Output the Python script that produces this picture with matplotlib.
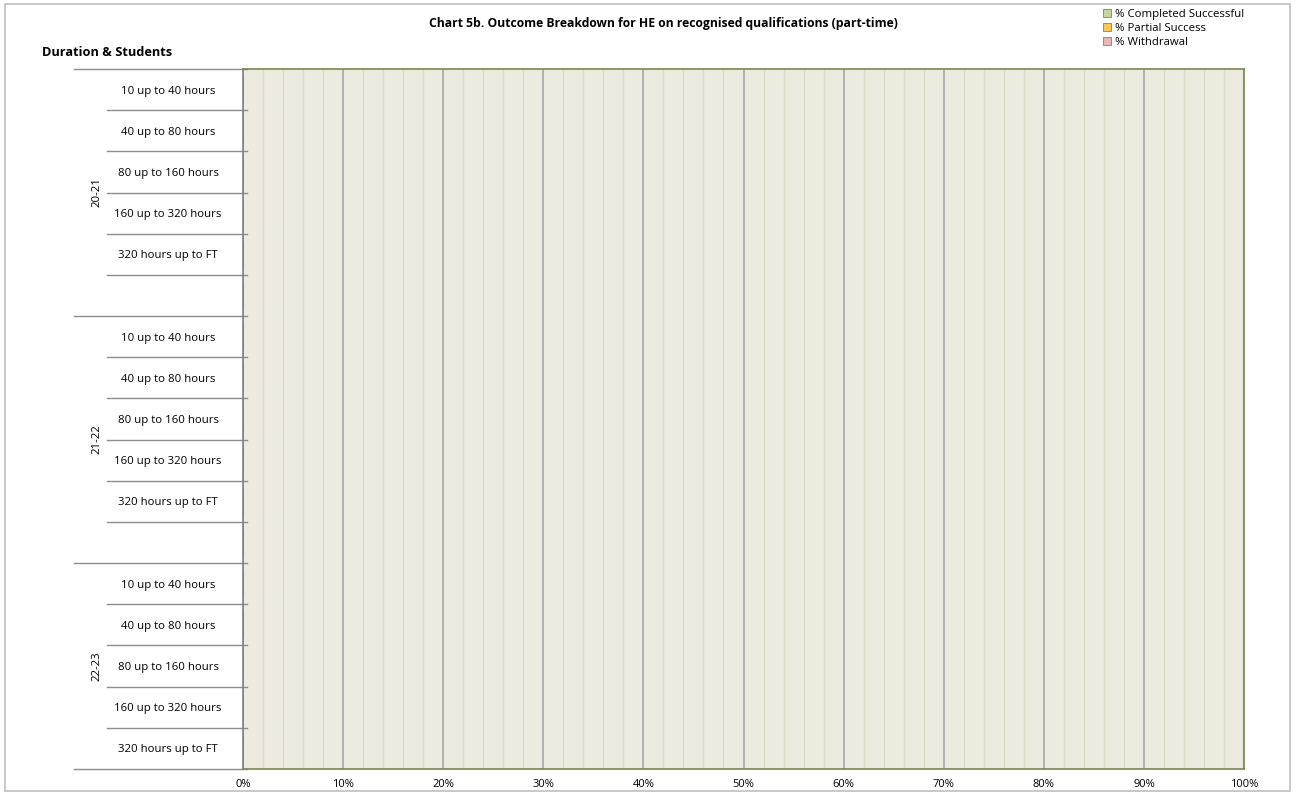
import numpy as np
import matplotlib.pyplot as plt
from matplotlib.patches import Rectangle

plt.rcParams['font.family'] = ['Open Sans', 'DejaVu Sans']

# categories (top to bottom)
durations = ['10 up to 40 hours', '40 up to 80 hours', '80 up to 160 hours',
             '160 up to 320 hours', '320 hours up to FT']
years = ['20-21', '21-22', '22-23']
row_labels = durations + [''] + durations + [''] + durations

# series (no data published -> all zero)
completed = [0] * len(row_labels)
partial = [0] * len(row_labels)
withdrawal = [0] * len(row_labels)

series_names = ['% Completed Successful', '% Partial Success', '% Withdrawal']
series_colors = ['#c4d79b', '#fac858', '#e6b8b7']

W, H = 1303, 792
fig = plt.figure(figsize=(W / 100, H / 100), dpi=100)
ax = fig.add_axes([243 / W, 1 - 769 / H, 1001 / W, 700 / H])

ypos = np.arange(len(row_labels))
left = np.zeros(len(row_labels))
for vals, name, col in zip([completed, partial, withdrawal], series_names, series_colors):
    ax.barh(ypos, vals, left=left, height=0.6, color=col, edgecolor='#808080',
            linewidth=0.6, label=name)
    left = left + np.array(vals)

ax.set_facecolor('#edeae0')
ax.set_xlim(0, 1)
ax.set_ylim(len(row_labels) - 0.5, -0.5)

ax.set_xticks(np.arange(0, 1.01, 0.1))
ax.set_xticklabels([f'{int(round(v * 100))}%' for v in np.arange(0, 1.01, 0.1)], fontsize=8)
ax.set_xticks(np.arange(0, 1.01, 0.02), minor=True)
ax.tick_params(axis='x', which='both', length=0, pad=7)
ax.grid(axis='x', which='minor', color='#dcd9c6', linewidth=1.0)
ax.grid(axis='x', which='major', color='#a6a6a6', linewidth=1.2)
ax.set_axisbelow(True)

ax.set_yticks(ypos)
ax.set_yticklabels(row_labels, fontsize=8.2, ha='center')
ax.tick_params(axis='y', length=0, pad=54)

for s in ['top', 'right', 'bottom']:
    ax.spines[s].set_color('#77894f')
    ax.spines[s].set_linewidth(1.2)
ax.spines['left'].set_color('#808080')
ax.spines['left'].set_linewidth(1.2)

# category separator lines to the left of the axis
ytr = ax.get_yaxis_transform()
bounds = np.arange(len(row_labels) + 1) - 0.5
group_edges = [-0.5, 5.5, 11.5, 16.5]
for b in bounds:
    x0 = -0.169 if b in group_edges else -0.136
    ax.plot([x0, 0.004], [b, b], transform=ytr, color='#8c8c8c', linewidth=1.0,
            clip_on=False)

# year group labels
starts = [-0.5, 5.5, 11.5]
ends = [5.5, 11.5, 16.5]
for yr, a, b in zip(years, starts, ends):
    ax.text(-0.146, (a + b) / 2, yr, transform=ytr, rotation=90, ha='center',
            va='center', fontsize=8.2)

fig.text(663 / W, 1 - 23 / H, 'Chart 5b. Outcome Breakdown for HE on recognised qualifications (part-time)',
         ha='center', va='center', fontsize=8.7, fontweight='bold')
fig.text(42 / W, 1 - 52 / H, 'Duration & Students', ha='left', va='center',
         fontsize=9.2, fontweight='bold')

leg = fig.legend(loc='upper left', bbox_to_anchor=(1098 / W, 1 - 4 / H), frameon=False,
                 fontsize=8.2, handlelength=0.75, handleheight=0.75, handletextpad=0.3,
                 labelspacing=0.25, borderaxespad=0)

fig.patches.append(Rectangle((5 / W, 1 / H), 1285 / W, 787 / H, transform=fig.transFigure,
                             fill=False, edgecolor='#bfbfbf', linewidth=1.2))

fig.savefig('out.png', dpi=100)
